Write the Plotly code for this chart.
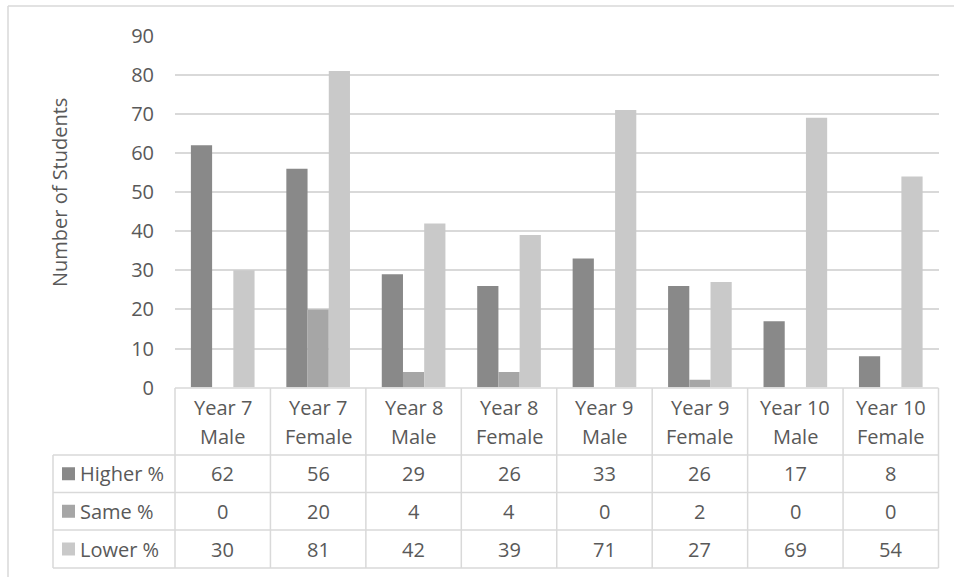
import plotly.graph_objects as go

categories = ["Year 7 Male", "Year 7 Female", "Year 8 Male", "Year 8 Female",
              "Year 9 Male", "Year 9 Female", "Year 10 Male", "Year 10 Female"]
series_names = ["Higher %", "Same %", "Lower %"]
higher = [62, 56, 29, 26, 33, 26, 17, 8]
same = [0, 20, 4, 4, 0, 2, 0, 0]
lower = [30, 81, 42, 39, 71, 27, 69, 54]
colors = ["#898989", "#a6a6a6", "#c9c9c9"]
y_ticks = [0, 10, 20, 30, 40, 50, 60, 70, 80, 90]

W, H = 954, 577
FONT = "Open Sans"
TXT = "#595959"
LINE = "#d9d9d9"
FS = 20

# pixel layout
PX_L, PX_R = 175, 938.5
PY_T, PY_B = 35.7, 387.6
TBL_L = 53
ROW_Y = [388, 455, 492.5, 530, 568]


def xp(px):
    return px / W


def yp(py):
    return 1 - py / H


fig = go.Figure()
for name, vals, col in zip(series_names, [higher, same, lower], colors):
    fig.add_trace(go.Bar(x=categories, y=vals, name=name, marker_color=col,
                         marker_line_width=0))

shapes = []
ann = []

# outer chart border (top & left visible)
shapes.append(dict(type="line", xref="paper", yref="paper", x0=xp(8), x1=1,
                   y0=yp(6), y1=yp(6), line=dict(color=LINE, width=1.5)))
shapes.append(dict(type="line", xref="paper", yref="paper", x0=xp(8), x1=xp(8),
                   y0=yp(6), y1=0, line=dict(color=LINE, width=1.5)))

n = len(categories)
colw = (PX_R - PX_L) / n
col_x = [PX_L + i * colw for i in range(n + 1)]

# table horizontal lines
shapes.append(dict(type="line", xref="paper", yref="paper", x0=xp(PX_L), x1=xp(PX_R),
                   y0=yp(ROW_Y[0]), y1=yp(ROW_Y[0]), line=dict(color=LINE, width=1.5)))
for ry in ROW_Y[1:]:
    shapes.append(dict(type="line", xref="paper", yref="paper", x0=xp(TBL_L), x1=xp(PX_R),
                       y0=yp(ry), y1=yp(ry), line=dict(color=LINE, width=1.5)))
# vertical lines
shapes.append(dict(type="line", xref="paper", yref="paper", x0=xp(TBL_L), x1=xp(TBL_L),
                   y0=yp(ROW_Y[1]), y1=yp(ROW_Y[-1]), line=dict(color=LINE, width=1.5)))
for cx in col_x:
    shapes.append(dict(type="line", xref="paper", yref="paper", x0=xp(cx), x1=xp(cx),
                       y0=yp(ROW_Y[0]), y1=yp(ROW_Y[-1]), line=dict(color=LINE, width=1.5)))

# header labels
for i, cat in enumerate(categories):
    first, last = cat.rsplit(" ", 1)
    cx = (col_x[i] + col_x[i + 1]) / 2
    for txt, py in [(first, 407), (last, 436)]:
        ann.append(dict(x=xp(cx), y=yp(py), xref="paper", yref="paper", text=txt,
                        showarrow=False, xanchor="center", yanchor="middle",
                        font=dict(family=FONT, size=FS, color=TXT)))

# data rows
for r, (name, vals, col) in enumerate(zip(series_names, [higher, same, lower], colors)):
    cy = (ROW_Y[r + 1] + ROW_Y[r + 2]) / 2
    shapes.append(dict(type="rect", xref="paper", yref="paper", x0=xp(62), x1=xp(75),
                       y0=yp(cy - 6.5), y1=yp(cy + 6.5), fillcolor=col, line=dict(width=0)))
    ann.append(dict(x=xp(78), y=yp(cy), xref="paper", yref="paper", text=name,
                    showarrow=False, xanchor="left", yanchor="middle",
                    font=dict(family=FONT, size=FS, color=TXT)))
    for i, v in enumerate(vals):
        cx = (col_x[i] + col_x[i + 1]) / 2
        ann.append(dict(x=xp(cx), y=yp(cy), xref="paper", yref="paper", text=str(v),
                        showarrow=False, xanchor="center", yanchor="middle",
                        font=dict(family=FONT, size=FS, color=TXT)))

# y-axis title
ann.append(dict(x=xp(59), y=yp(193), xref="paper", yref="paper", text="Number of Students",
                showarrow=False, textangle=-90, xanchor="center", yanchor="middle",
                font=dict(family=FONT, size=FS, color=TXT)))

fig.update_layout(
    width=W, height=H,
    margin=dict(l=0, r=0, t=0, b=0, pad=0, autoexpand=False),
    paper_bgcolor="white", plot_bgcolor="white",
    showlegend=False,
    barmode="group", bargap=0.333, bargroupgap=0,
    shapes=shapes, annotations=ann,
    xaxis=dict(domain=[xp(PX_L), xp(PX_R)], showticklabels=False, showgrid=False,
               zeroline=False, showline=False, range=[-0.5, n - 0.5], fixedrange=True,
               automargin=False),
    yaxis=dict(domain=[yp(PY_B), yp(PY_T)], range=[0, 90], tickvals=y_ticks,
               showgrid=True, gridcolor=LINE, gridwidth=1.5, zeroline=False,
               showline=False, ticks="", ticklabelstandoff=20, automargin=False,
               tickfont=dict(family=FONT, size=FS, color=TXT)),
)

fig.write_html("out.html", config={"displayModeBar": False},
               post_script="document.body.style.margin='0';"
               "document.body.style.overflow='hidden';")
